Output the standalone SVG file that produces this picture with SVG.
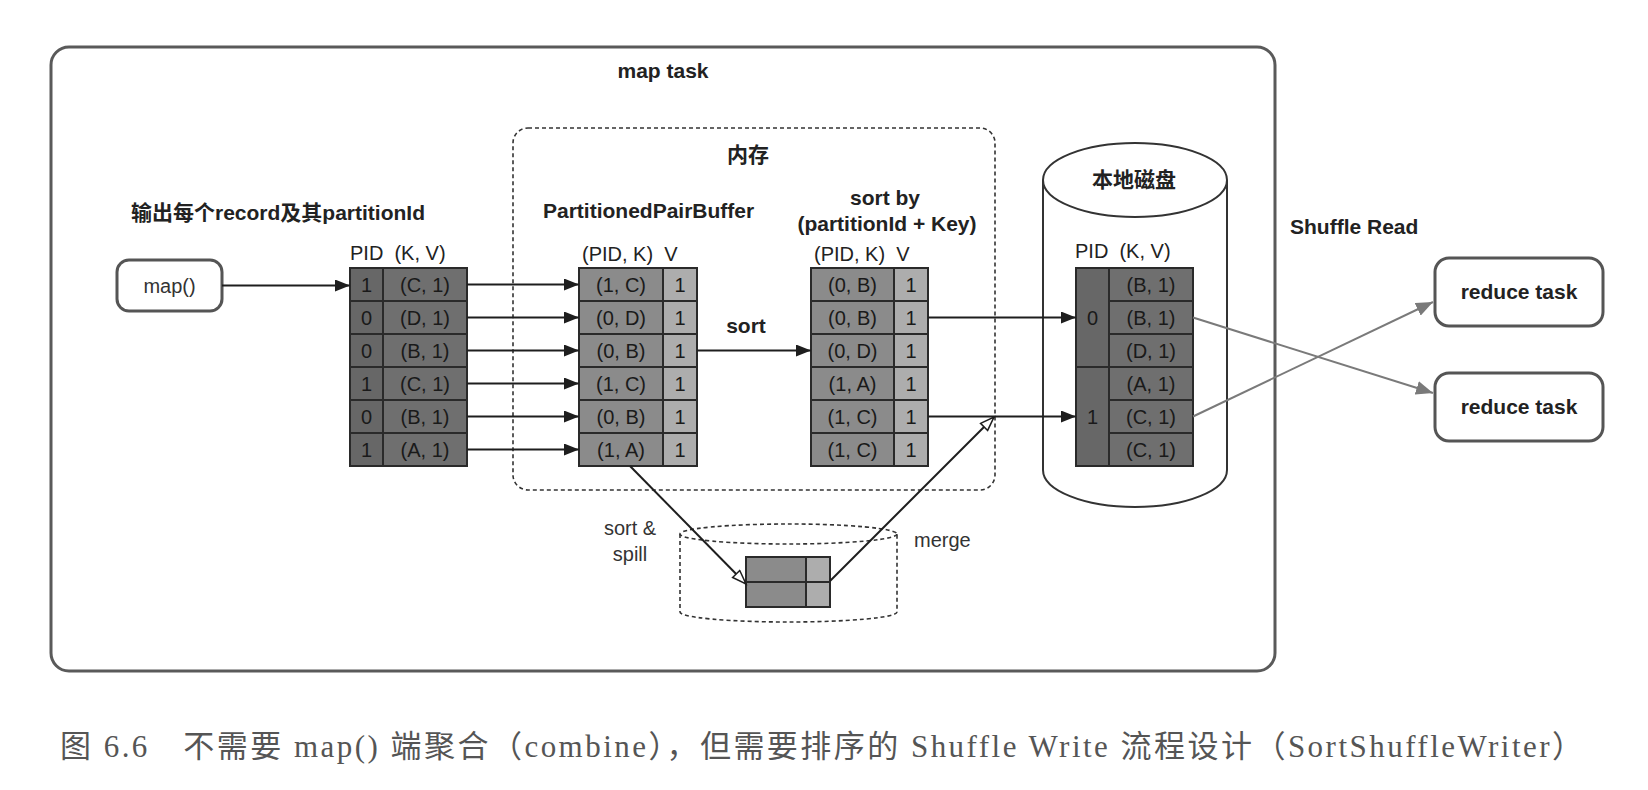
<svg xmlns="http://www.w3.org/2000/svg" width="1648" height="790" viewBox="0 0 1648 790">
<defs>
<style>
.lbl{font-family:"Liberation Sans",Arial,"Noto Sans CJK SC",sans-serif;font-weight:bold;font-size:21px;fill:#222}
.hdr{font-family:"Liberation Sans",Arial,sans-serif;font-size:20px;fill:#222}
.cell{font-family:"Liberation Sans",Arial,sans-serif;font-size:20px;fill:#1a1a1a;text-anchor:middle}
.plain{font-family:"Liberation Sans",Arial,sans-serif;font-size:20px;fill:#333}
.cap{font-family:"Liberation Serif","DejaVu Serif","Noto Sans CJK SC",serif;font-size:31px;fill:#555}
.dk{fill:#6f6f6f;stroke:#2a2a2a;stroke-width:2}
.dk2{fill:#676767;stroke:#2a2a2a;stroke-width:2}
.md{fill:#8b8b8b;stroke:#2a2a2a;stroke-width:2}
.lt{fill:#adadad;stroke:#2a2a2a;stroke-width:2}
.arr{stroke:#1e1e1e;stroke-width:2;fill:none;marker-end:url(#ah)}
.oarr{stroke:#1e1e1e;stroke-width:2;fill:none;marker-end:url(#oh)}
.garr{stroke:#7a7a7a;stroke-width:2;fill:none;marker-end:url(#gh)}
.node{fill:#fff;stroke:#555;stroke-width:3}
</style>
<marker id="ah" markerWidth="16" markerHeight="12" refX="15" refY="6" orient="auto" markerUnits="userSpaceOnUse"><path d="M0,0 L15,6 L0,12 z" fill="#1e1e1e"/></marker>
<marker id="oh" markerWidth="18" markerHeight="14" refX="15" refY="6" orient="auto" markerUnits="userSpaceOnUse"><path d="M1,1 L15,6 L1,11 z" fill="#fff" stroke="#1e1e1e" stroke-width="1.5"/></marker>
<marker id="gh" markerWidth="18" markerHeight="14" refX="17" refY="7" orient="auto" markerUnits="userSpaceOnUse"><path d="M0,0 L17,7 L0,14 z" fill="#7a7a7a"/></marker>
</defs>
<rect width="1648" height="790" fill="#fff"/>

<g id="map-task">
<rect x="51" y="47" width="1224" height="624" rx="18" fill="#fff" stroke="#5a5a5a" stroke-width="3"/>
<text class="lbl" x="663" y="78" text-anchor="middle">map task</text>
</g>

<g id="memory">
<rect x="513" y="128" width="482" height="362" rx="15" fill="none" stroke="#333" stroke-width="1.6" stroke-dasharray="4 3"/>
<text class="lbl" x="748" y="162" text-anchor="middle">内存</text>
</g>

<g id="disk">
<path d="M1043,180 V470 A92,37 0 0 0 1227,470 V180" fill="#fff" stroke="#333" stroke-width="2"/>
<ellipse cx="1135" cy="180" rx="92" ry="37" fill="#fff" stroke="#333" stroke-width="2"/>
<text class="lbl" x="1134" y="187" text-anchor="middle">本地磁盘</text>
</g>

<g id="spill-disk">
<path d="M680,534 V612 A108.5,10 0 0 0 897,612 V534" fill="#fff" stroke="#333" stroke-width="1.6" stroke-dasharray="4 3"/>
<ellipse cx="788.5" cy="534" rx="108.5" ry="10" fill="none" stroke="#333" stroke-width="1.6" stroke-dasharray="4 3"/>
</g>

<g id="map-node">
<rect class="node" x="117" y="260" width="105" height="51" rx="12"/>
<text class="plain" x="169.5" y="293" text-anchor="middle" fill="#222">map()</text>
</g>

<g id="label-output">
<text class="lbl" x="131" y="220">输出每个record及其partitionId</text>
</g>

<g id="table-records">
<text class="hdr" x="350" y="260" xml:space="preserve">PID  (K, V)</text>
<rect class="dk2" x="350" y="268" width="33" height="33"/><rect class="dk" x="383" y="268" width="84" height="33"/>
<rect class="dk2" x="350" y="301" width="33" height="33"/><rect class="dk" x="383" y="301" width="84" height="33"/>
<rect class="dk2" x="350" y="334" width="33" height="33"/><rect class="dk" x="383" y="334" width="84" height="33"/>
<rect class="dk2" x="350" y="367" width="33" height="33"/><rect class="dk" x="383" y="367" width="84" height="33"/>
<rect class="dk2" x="350" y="400" width="33" height="33"/><rect class="dk" x="383" y="400" width="84" height="33"/>
<rect class="dk2" x="350" y="433" width="33" height="33"/><rect class="dk" x="383" y="433" width="84" height="33"/>
<text class="cell" x="366.5" y="291.5">1</text><text class="cell" x="425" y="291.5">(C, 1)</text>
<text class="cell" x="366.5" y="324.5">0</text><text class="cell" x="425" y="324.5">(D, 1)</text>
<text class="cell" x="366.5" y="357.5">0</text><text class="cell" x="425" y="357.5">(B, 1)</text>
<text class="cell" x="366.5" y="390.5">1</text><text class="cell" x="425" y="390.5">(C, 1)</text>
<text class="cell" x="366.5" y="423.5">0</text><text class="cell" x="425" y="423.5">(B, 1)</text>
<text class="cell" x="366.5" y="456.5">1</text><text class="cell" x="425" y="456.5">(A, 1)</text>
</g>

<g id="table-buffer">
<text class="lbl" x="543" y="218">PartitionedPairBuffer</text>
<text class="hdr" x="582" y="261" xml:space="preserve">(PID, K)  V</text>
<rect class="md" x="579" y="268" width="84" height="33"/><rect class="lt" x="663" y="268" width="34" height="33"/>
<rect class="md" x="579" y="301" width="84" height="33"/><rect class="lt" x="663" y="301" width="34" height="33"/>
<rect class="md" x="579" y="334" width="84" height="33"/><rect class="lt" x="663" y="334" width="34" height="33"/>
<rect class="md" x="579" y="367" width="84" height="33"/><rect class="lt" x="663" y="367" width="34" height="33"/>
<rect class="md" x="579" y="400" width="84" height="33"/><rect class="lt" x="663" y="400" width="34" height="33"/>
<rect class="md" x="579" y="433" width="84" height="33"/><rect class="lt" x="663" y="433" width="34" height="33"/>
<text class="cell" x="621" y="291.5">(1, C)</text><text class="cell" x="680" y="291.5">1</text>
<text class="cell" x="621" y="324.5">(0, D)</text><text class="cell" x="680" y="324.5">1</text>
<text class="cell" x="621" y="357.5">(0, B)</text><text class="cell" x="680" y="357.5">1</text>
<text class="cell" x="621" y="390.5">(1, C)</text><text class="cell" x="680" y="390.5">1</text>
<text class="cell" x="621" y="423.5">(0, B)</text><text class="cell" x="680" y="423.5">1</text>
<text class="cell" x="621" y="456.5">(1, A)</text><text class="cell" x="680" y="456.5">1</text>
</g>

<g id="table-sorted">
<text class="lbl" x="885" y="205" text-anchor="middle">sort by</text>
<text class="lbl" x="887" y="231" text-anchor="middle">(partitionId + Key)</text>
<text class="hdr" x="814" y="261" xml:space="preserve">(PID, K)  V</text>
<rect class="md" x="811" y="268" width="83" height="33"/><rect class="lt" x="894" y="268" width="34" height="33"/>
<rect class="md" x="811" y="301" width="83" height="33"/><rect class="lt" x="894" y="301" width="34" height="33"/>
<rect class="md" x="811" y="334" width="83" height="33"/><rect class="lt" x="894" y="334" width="34" height="33"/>
<rect class="md" x="811" y="367" width="83" height="33"/><rect class="lt" x="894" y="367" width="34" height="33"/>
<rect class="md" x="811" y="400" width="83" height="33"/><rect class="lt" x="894" y="400" width="34" height="33"/>
<rect class="md" x="811" y="433" width="83" height="33"/><rect class="lt" x="894" y="433" width="34" height="33"/>
<text class="cell" x="852.5" y="291.5">(0, B)</text><text class="cell" x="911" y="291.5">1</text>
<text class="cell" x="852.5" y="324.5">(0, B)</text><text class="cell" x="911" y="324.5">1</text>
<text class="cell" x="852.5" y="357.5">(0, D)</text><text class="cell" x="911" y="357.5">1</text>
<text class="cell" x="852.5" y="390.5">(1, A)</text><text class="cell" x="911" y="390.5">1</text>
<text class="cell" x="852.5" y="423.5">(1, C)</text><text class="cell" x="911" y="423.5">1</text>
<text class="cell" x="852.5" y="456.5">(1, C)</text><text class="cell" x="911" y="456.5">1</text>
</g>

<g id="table-disk">
<text class="hdr" x="1075" y="258" xml:space="preserve">PID  (K, V)</text>
<rect class="dk2" x="1076" y="268" width="33" height="99"/>
<rect class="dk2" x="1076" y="367" width="33" height="99"/>
<rect class="dk" x="1109" y="268" width="84" height="33"/>
<rect class="dk" x="1109" y="301" width="84" height="33"/>
<rect class="dk" x="1109" y="334" width="84" height="33"/>
<rect class="dk" x="1109" y="367" width="84" height="33"/>
<rect class="dk" x="1109" y="400" width="84" height="33"/>
<rect class="dk" x="1109" y="433" width="84" height="33"/>
<text class="cell" x="1092.5" y="324.5">0</text>
<text class="cell" x="1092.5" y="423.5">1</text>
<text class="cell" x="1151" y="291.5">(B, 1)</text>
<text class="cell" x="1151" y="324.5">(B, 1)</text>
<text class="cell" x="1151" y="357.5">(D, 1)</text>
<text class="cell" x="1151" y="390.5">(A, 1)</text>
<text class="cell" x="1151" y="423.5">(C, 1)</text>
<text class="cell" x="1151" y="456.5">(C, 1)</text>
</g>

<g id="table-spill">
<rect class="md" x="746" y="557" width="60" height="25"/><rect class="lt" x="806" y="557" width="24" height="25"/>
<rect class="md" x="746" y="582" width="60" height="25"/><rect class="lt" x="806" y="582" width="24" height="25"/>
</g>

<g id="reduce-1">
<rect class="node" x="1435" y="258" width="168" height="68" rx="14"/>
<text class="lbl" x="1519" y="299" text-anchor="middle">reduce task</text>
</g>
<g id="reduce-2">
<rect class="node" x="1435" y="373" width="168" height="68" rx="14"/>
<text class="lbl" x="1519" y="414" text-anchor="middle">reduce task</text>
</g>

<g id="labels">
<text class="lbl" x="1290" y="234">Shuffle Read</text>
<text class="lbl" x="746" y="333" text-anchor="middle">sort</text>
<text class="plain" x="630" y="535" text-anchor="middle">sort &amp;</text>
<text class="plain" x="630" y="561" text-anchor="middle">spill</text>
<text class="plain" x="914" y="547">merge</text>
</g>

<g id="connectors">
<line class="arr" x1="222" y1="285.5" x2="350" y2="285.5"/>
<line class="arr" x1="467" y1="284.5" x2="579" y2="284.5"/>
<line class="arr" x1="467" y1="317.5" x2="579" y2="317.5"/>
<line class="arr" x1="467" y1="350.5" x2="579" y2="350.5"/>
<line class="arr" x1="467" y1="383.5" x2="579" y2="383.5"/>
<line class="arr" x1="467" y1="416.5" x2="579" y2="416.5"/>
<line class="arr" x1="467" y1="449.5" x2="579" y2="449.5"/>
<line class="arr" x1="697" y1="350.5" x2="811" y2="350.5"/>
<line class="arr" x1="928" y1="317.5" x2="1076" y2="317.5"/>
<line class="arr" x1="928" y1="416.5" x2="1076" y2="416.5"/>
<line class="oarr" x1="630" y1="466" x2="746" y2="584"/>
<line class="oarr" x1="830" y1="581" x2="994" y2="417"/>
<line class="garr" x1="1193" y1="317.5" x2="1433" y2="393"/>
<line class="garr" x1="1193" y1="416.5" x2="1433" y2="302"/>
</g>

<g id="caption">
<text class="cap" x="60" y="757" textLength="1523" lengthAdjust="spacing" xml:space="preserve">图 6.6　不需要 map() 端聚合（combine），但需要排序的 Shuffle Write 流程设计（SortShuffleWriter）</text>
</g>
</svg>
